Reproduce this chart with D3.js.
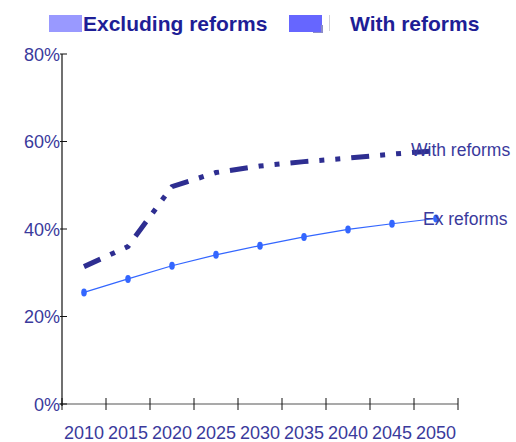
<!DOCTYPE html>
<html>
<head>
<meta charset="utf-8">
<script src="https://cdn.jsdelivr.net/npm/d3@7"></script>
<style>
  html, body { margin: 0; padding: 0; background: #fff; }
  svg { display: block; font-family: "Liberation Sans", Arial, sans-serif; }
</style>
</head>
<body>
<svg id="chart" width="516" height="442"></svg>
<script>
// Share of output, projected path under two scenarios
const years = ["2010", "2015", "2020", "2025", "2030", "2035", "2040", "2045", "2050"];
const exReforms = [0.255, 0.286, 0.316, 0.341, 0.362, 0.382, 0.399, 0.412, 0.424];
const withReforms = [0.314, 0.360, 0.497, 0.529, 0.544, 0.554, 0.562, 0.571, 0.579];
const yTicks = [0, 0.2, 0.4, 0.6, 0.8];
const legendItems = [
  { label: "Excluding reforms", color: "#9999ff" },
  { label: "With reforms", color: "#6666ff" }
];

const svg = d3.select("#chart");
const plotLeft = 62, plotRight = 458, plotTop = 54, plotBottom = 404;

const x = d3.scaleBand().domain(years).range([plotLeft, plotRight]).padding(0);
const y = d3.scaleLinear().domain([0, 0.8]).range([plotBottom, plotTop]);
const cx = d => x(d) + x.bandwidth() / 2;

const labelColor = "#3a3a9c";

// X axis: labels centred in each band, ticks on band boundaries
const xAxis = svg.append("g").attr("transform", `translate(0,${plotBottom})`)
  .call(d3.axisBottom(x).tickSize(0).tickPadding(22));
xAxis.select(".domain").remove();
xAxis.selectAll("text")
  .attr("fill", labelColor).attr("font-size", 18)
  .attr("font-family", "Liberation Sans, Arial, sans-serif");

svg.append("line")
  .attr("x1", plotLeft - 3).attr("x2", plotRight).attr("y1", plotBottom).attr("y2", plotBottom)
  .attr("stroke", "#555").attr("stroke-width", 1.2);
const boundaries = years.map(d => x(d)).concat([x(years[years.length - 1]) + x.bandwidth()]);
svg.append("g").selectAll("line").data(boundaries).join("line")
  .attr("x1", d => d).attr("x2", d => d)
  .attr("y1", plotBottom - 6).attr("y2", plotBottom + 6)
  .attr("stroke", "#111").attr("stroke-width", 1);

// Y axis
const yAxis = svg.append("g").attr("transform", `translate(${plotLeft},0)`)
  .call(d3.axisLeft(y).tickValues(yTicks).tickFormat(d3.format(".0%")).tickSize(0).tickPadding(2));
yAxis.select(".domain").remove();
yAxis.selectAll("text")
  .attr("fill", labelColor).attr("font-size", 18).attr("dy", "0.36em")
  .attr("font-family", "Liberation Sans, Arial, sans-serif");
svg.append("g").selectAll("line").data(yTicks).join("line")
  .attr("x1", plotLeft - 2).attr("x2", plotLeft + 5)
  .attr("y1", d => y(d)).attr("y2", d => y(d))
  .attr("stroke", "#111").attr("stroke-width", 1);
svg.append("line")
  .attr("x1", plotLeft).attr("x2", plotLeft).attr("y1", plotTop).attr("y2", plotBottom + 2)
  .attr("stroke", "#111").attr("stroke-width", 1.2);

// With-reforms line: thick dash-dot-dot
const line = d3.line().x((d, i) => cx(years[i])).y(d => y(d));
svg.append("path")
  .datum(withReforms)
  .attr("d", line)
  .attr("fill", "none")
  .attr("stroke", "#2e2e91")
  .attr("stroke-width", 5)
  .attr("stroke-linecap", "butt")
  .attr("stroke-dasharray", "18,11,5,11,5,11");

// Excluding-reforms line with oval markers
svg.append("path")
  .datum(exReforms)
  .attr("d", line)
  .attr("fill", "none")
  .attr("stroke", "#3366ff")
  .attr("stroke-width", 1.2);
svg.append("g").selectAll("ellipse").data(exReforms).join("ellipse")
  .attr("cx", (d, i) => cx(years[i]))
  .attr("cy", d => y(d))
  .attr("rx", 2.8).attr("ry", 4)
  .attr("fill", "#3366ff");

// Series end labels
const last = years.length - 1;
svg.append("text")
  .attr("x", cx(years[last]) - 25).attr("y", y(withReforms[last]) + 5)
  .attr("fill", labelColor).attr("font-size", 17.5)
  .text("With reforms");
svg.append("text")
  .attr("x", cx(years[last]) - 13).attr("y", y(exReforms[last]) + 6)
  .attr("fill", labelColor).attr("font-size", 17.5)
  .text("Ex reforms");

// Legend
const legend = svg.append("g");
const legendX = [49, 289];
const textX = [83, 350];
legendItems.forEach((item, i) => {
  legend.append("rect")
    .attr("x", legendX[i]).attr("y", 15).attr("width", 33).attr("height", 17)
    .attr("fill", item.color);
  legend.append("text")
    .attr("x", textX[i]).attr("y", 31)
    .attr("fill", "#1e1e96").attr("font-size", 21).attr("font-weight", "bold")
    .text(item.label);
});
// soft shadow on the second swatch
legend.append("rect").attr("x", 313).attr("y", 25).attr("width", 10).attr("height", 8)
  .attr("fill", "#8c8cc8");
legend.append("rect").attr("x", 313).attr("y", 15).attr("width", 8).attr("height", 17)
  .attr("fill", "#6666ff");
legend.append("line").attr("x1", 329.5).attr("x2", 329.5).attr("y1", 15).attr("y2", 31)
  .attr("stroke", "#d0d0d8").attr("stroke-width", 1);
</script>
</body>
</html>
